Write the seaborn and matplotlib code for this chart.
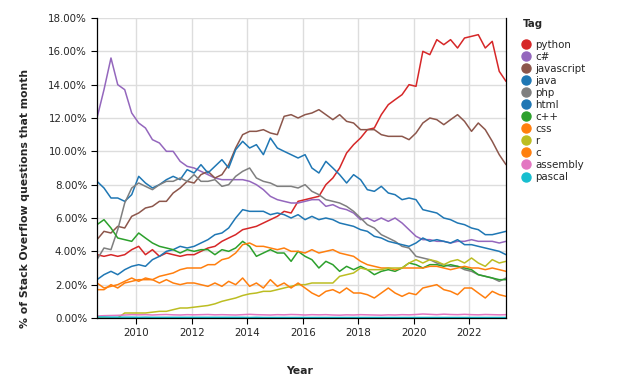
import pandas as pd
import matplotlib
matplotlib.use('Agg')
import matplotlib.pyplot as plt
import matplotlib.dates as mdates
from matplotlib.lines import Line2D
from matplotlib.ticker import FuncFormatter
import seaborn as sns

# quarterly readings, Aug 2008 .. May 2023 (% of questions that month)
dates = pd.date_range('2008-08-01', periods=60, freq='3MS')

tags = ['python', 'c#', 'javascript', 'java', 'php', 'html',
        'c++', 'css', 'r', 'c', 'assembly', 'pascal']
tag_colors = ['#d62728', '#9467bd', '#8c564b', '#1f77b4', '#7f7f7f', '#1f77b4',
              '#2ca02c', '#ff7f0e', '#bcbd22', '#ff7f0e', '#e377c2', '#17becf']

python = [3.8, 3.7, 3.8, 3.7, 3.8, 4.1, 4.3, 3.8, 4.1, 3.7,
          3.9, 3.8, 3.7, 3.8, 3.8, 4.0, 4.2, 4.3, 4.6, 4.8,
          5.0, 5.3, 5.4, 5.5, 5.7, 5.9, 6.1, 6.4, 6.3, 7.0,
          7.1, 7.2, 7.3, 8.0, 8.4, 9.0, 9.9, 10.4, 10.8, 11.3,
          11.4, 12.2, 12.8, 13.1, 13.4, 14.0, 13.9, 16.0, 15.8, 16.7,
          16.4, 16.7, 16.2, 16.8, 16.9, 17.0, 16.2, 16.6, 14.8, 14.2]
csharp = [12.0, 13.7, 15.6, 14.0, 13.7, 12.3, 11.7, 11.4, 10.7, 10.5,
          10.0, 10.0, 9.4, 9.1, 9.0, 8.8, 8.6, 8.4, 8.3, 8.3,
          8.3, 8.3, 8.2, 8.0, 7.7, 7.3, 7.1, 7.0, 6.9, 6.9,
          7.0, 7.1, 7.1, 6.7, 6.8, 6.6, 6.5, 6.3, 5.9, 6.0,
          5.8, 6.0, 5.8, 6.0, 5.7, 5.3, 4.9, 4.7, 4.7, 4.6,
          4.6, 4.5, 4.6, 4.6, 4.7, 4.6, 4.6, 4.6, 4.5, 4.6]
javascript = [4.7, 5.2, 5.1, 5.5, 5.4, 6.1, 6.3, 6.6, 6.7, 7.0,
              7.0, 7.5, 7.8, 8.2, 8.1, 8.6, 8.8, 8.4, 8.6, 9.2,
              10.2, 11.0, 11.2, 11.2, 11.3, 11.1, 11.0, 12.1, 12.2, 12.0,
              12.2, 12.3, 12.5, 12.2, 11.9, 12.2, 11.8, 11.7, 11.3, 11.3,
              11.3, 11.0, 10.9, 10.9, 10.9, 10.7, 11.1, 11.7, 12.0, 11.9,
              11.6, 11.9, 12.2, 11.8, 11.2, 11.7, 11.3, 10.6, 9.8, 9.2]
java = [8.2, 7.8, 7.2, 7.2, 7.0, 7.4, 8.5, 8.1, 7.8, 8.0,
        8.3, 8.5, 8.3, 8.9, 8.7, 9.2, 8.7, 9.1, 9.5, 9.0,
        10.1, 10.6, 10.2, 10.4, 9.8, 10.8, 10.2, 10.0, 9.8, 9.6,
        9.8, 9.0, 8.7, 9.4, 9.0, 8.6, 8.1, 8.6, 8.3, 7.7,
        7.6, 7.9, 7.5, 7.4, 7.1, 7.2, 7.1, 6.5, 6.4, 6.3,
        6.0, 5.9, 5.7, 5.6, 5.4, 5.3, 5.0, 5.0, 5.1, 5.2]
php = [3.5, 4.2, 4.1, 5.3, 6.9, 7.8, 8.1, 7.9, 7.7, 8.0,
       8.2, 8.2, 8.4, 8.2, 8.6, 8.2, 8.2, 8.3, 7.9, 8.0,
       8.5, 8.8, 9.0, 8.4, 8.2, 8.1, 7.9, 7.9, 7.9, 7.8,
       8.0, 7.6, 7.4, 7.1, 7.0, 6.9, 6.7, 6.4, 6.0, 5.6,
       5.4, 5.0, 4.8, 4.6, 4.3, 4.2, 3.7, 3.6, 3.5, 3.3,
       3.2, 3.1, 3.1, 2.9, 2.8, 2.6, 2.5, 2.4, 2.2, 2.4]
html = [2.3, 2.6, 2.8, 2.6, 2.9, 3.1, 3.2, 3.1, 3.5, 3.7,
        4.0, 4.1, 4.3, 4.2, 4.3, 4.5, 4.7, 5.0, 5.1, 5.4,
        6.0, 6.5, 6.4, 6.4, 6.4, 6.2, 6.3, 6.2, 6.0, 6.2,
        5.9, 6.1, 5.9, 6.0, 5.9, 5.7, 5.6, 5.5, 5.3, 5.2,
        4.9, 4.8, 4.6, 4.5, 4.4, 4.3, 4.5, 4.8, 4.6, 4.7,
        4.6, 4.5, 4.7, 4.4, 4.4, 4.3, 4.2, 4.1, 4.0, 3.8]
cpp = [5.6, 5.9, 5.4, 4.8, 4.7, 4.6, 5.1, 4.8, 4.5, 4.3,
       4.2, 4.1, 3.9, 4.1, 4.0, 4.1, 4.1, 3.8, 4.1, 4.0,
       4.2, 4.6, 4.3, 3.7, 3.9, 4.1, 3.9, 3.9, 3.4, 4.0,
       3.7, 3.5, 3.0, 3.4, 3.2, 2.8, 3.1, 2.9, 3.1, 2.9,
       2.6, 2.8, 2.9, 2.8, 3.0, 3.3, 3.2, 3.0, 3.2, 3.2,
       3.1, 3.2, 3.1, 3.0, 2.9, 2.6, 2.5, 2.4, 2.3, 2.3]
css = [1.7, 1.7, 2.0, 1.8, 2.1, 2.2, 2.3, 2.3, 2.3, 2.5,
       2.6, 2.7, 2.9, 3.0, 3.0, 3.0, 3.2, 3.2, 3.5, 3.6,
       3.9, 4.4, 4.5, 4.3, 4.3, 4.2, 4.1, 4.2, 4.0, 4.0,
       3.9, 4.1, 3.9, 4.0, 4.1, 3.9, 3.8, 3.7, 3.4, 3.2,
       3.1, 3.0, 3.0, 2.9, 3.0, 3.0, 3.0, 3.0, 3.1, 3.1,
       3.0, 2.9, 3.0, 3.1, 3.0, 3.0, 2.9, 3.0, 2.9, 2.8]
r = [0.0, 0.0, 0.0, 0.0, 0.3, 0.3, 0.3, 0.3, 0.35, 0.4,
     0.4, 0.5, 0.6, 0.6, 0.65, 0.7, 0.75, 0.85, 1.0, 1.1,
     1.2, 1.35, 1.45, 1.5, 1.6, 1.6, 1.7, 1.8, 1.9, 2.0,
     2.0, 2.1, 2.1, 2.1, 2.1, 2.5, 2.6, 2.7, 3.0, 2.9,
     2.9, 2.9, 3.0, 3.0, 3.0, 3.3, 3.5, 3.3, 3.5, 3.4,
     3.2, 3.4, 3.5, 3.3, 3.6, 3.3, 3.1, 3.5, 3.3, 3.4]
c = [2.1, 1.8, 1.9, 2.0, 2.2, 2.4, 2.2, 2.4, 2.3, 2.1,
     2.3, 2.1, 2.0, 2.1, 2.1, 2.0, 1.9, 2.1, 1.9, 2.2,
     2.0, 2.4, 1.9, 2.1, 1.8, 2.3, 1.9, 2.1, 1.8, 2.1,
     1.8, 1.5, 1.3, 1.6, 1.7, 1.5, 1.8, 1.5, 1.5, 1.4,
     1.2, 1.5, 1.8, 1.5, 1.3, 1.5, 1.4, 1.8, 1.9, 2.0,
     1.7, 1.6, 1.4, 1.8, 1.8, 1.5, 1.2, 1.6, 1.4, 1.3]
assembly = [0.12, 0.14, 0.15, 0.16, 0.18, 0.2, 0.19, 0.2, 0.18, 0.2,
            0.21, 0.19, 0.18, 0.2, 0.19, 0.2, 0.21, 0.19, 0.2, 0.19,
            0.18, 0.2, 0.22, 0.2, 0.19, 0.18, 0.2, 0.19, 0.21, 0.2,
            0.18, 0.2, 0.19, 0.2, 0.18, 0.17, 0.19, 0.18, 0.2, 0.19,
            0.18, 0.17, 0.19, 0.18, 0.2, 0.19, 0.21, 0.24, 0.22, 0.2,
            0.23, 0.21, 0.2, 0.22, 0.2, 0.19, 0.21, 0.2, 0.19, 0.2]
pascal = [0.06, 0.06, 0.05, 0.05, 0.05, 0.05, 0.04, 0.05, 0.04, 0.04,
          0.04, 0.04, 0.04, 0.04, 0.04, 0.04, 0.04, 0.04, 0.04, 0.04,
          0.04, 0.04, 0.03, 0.04, 0.03, 0.03, 0.03, 0.03, 0.03, 0.03,
          0.03, 0.03, 0.03, 0.03, 0.03, 0.03, 0.03, 0.03, 0.03, 0.03,
          0.03, 0.03, 0.03, 0.03, 0.03, 0.03, 0.03, 0.03, 0.03, 0.03,
          0.03, 0.03, 0.03, 0.03, 0.03, 0.03, 0.03, 0.03, 0.03, 0.03]

series = [python, csharp, javascript, java, php, html, cpp, css, r, c, assembly, pascal]

frames = []
for tag, vals in zip(tags, series):
    frames.append(pd.DataFrame({'date': dates, 'pct': vals, 'tag': tag}))
df = pd.concat(frames, ignore_index=True)
palette = dict(zip(tags, tag_colors))

sns.set_style('white')
plt.rcParams['font.family'] = ['DejaVu Sans']

fig = plt.figure(figsize=(6.24, 3.86), dpi=100)
ax = fig.add_axes([97 / 624, 1 - 318 / 386, 409 / 624, 300 / 386])

sns.lineplot(data=df, x='date', y='pct', hue='tag', hue_order=tags,
             palette=palette, linewidth=1.1, legend=False, ax=ax)

ax.set_ylim(0, 18)
ax.set_xlim(dates[0], dates[-1])
ax.set_yticks(range(0, 19, 2))
ax.yaxis.set_major_formatter(FuncFormatter(lambda v, p: f'{v:.2f}%'))
ax.xaxis.set_major_locator(mdates.YearLocator(2))
ax.xaxis.set_major_formatter(mdates.DateFormatter('%Y'))

ax.grid(True, color='#dddddd', linewidth=1.0)
ax.set_axisbelow(True)
for side in ['left', 'right', 'bottom']:
    ax.spines[side].set_visible(True)
    ax.spines[side].set_color('black')
    ax.spines[side].set_linewidth(0.9)
ax.spines['top'].set_visible(False)
ax.tick_params(axis='both', which='major', length=4, width=0.8, color='black',
               labelsize=7.4, pad=3, left=True, bottom=True)

ax.set_xlabel('Year', fontsize=7.8, fontweight='bold')
ax.set_ylabel('% of Stack Overflow questions that month', fontsize=7.8, fontweight='bold')
ax.xaxis.set_label_coords(0.496, -0.16)
ax.yaxis.set_label_coords(-0.163, 0.40)

# legend: title as its own text so the gap below it matches
fig.text(523 / 624, 1 - 24 / 386, 'Tag', fontsize=7.4, fontweight='bold',
         ha='left', va='center')
handles = [Line2D([], [], marker='o', linestyle='', markersize=6.5,
                  markerfacecolor=col, markeredgecolor=col) for col in tag_colors]
fig.legend(handles, tags, loc='upper left', bbox_to_anchor=(522 / 624, 1 - 39.5 / 386),
           frameon=False, fontsize=7.4,
           handlelength=0.8, handletextpad=0.5, labelspacing=0.2,
           borderpad=0, borderaxespad=0)

fig.savefig('out.png', dpi=100)
